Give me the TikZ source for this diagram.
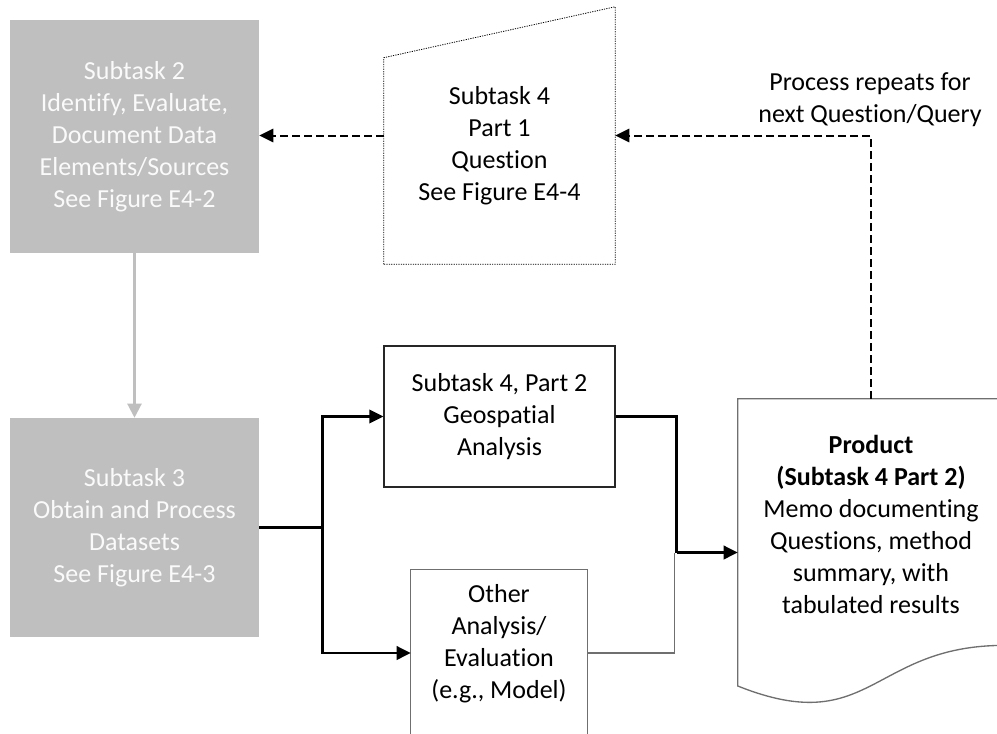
\documentclass[tikz,border=0pt]{standalone}
\usepackage{fontspec}
\setmainfont{Carlito}[Ligatures={NoCommon}]
\usetikzlibrary{arrows.meta,calc}
\definecolor{boxgray}{HTML}{BFBFBF}
\definecolor{lightfont}{HTML}{FAFAFA}
\definecolor{edgegray}{HTML}{6F6F6F}

\begin{document}
\begin{tikzpicture}[x=0.75pt,y=-0.75pt,
  every node/.style={font=\fontsize{19.5pt}{24pt}\selectfont, align=center, inner sep=0pt},
  graybox/.style={fill=boxgray, text=lightfont},
  frame/.style={draw=black!85, line width=0.9pt},
  grayframe/.style={draw=edgegray, line width=1pt},
  dotframe/.style={draw=black, line width=0.6pt, dash pattern=on 0.9pt off 0.9pt},
  flow/.style={line width=1.9pt},
  thinflow/.style={draw=edgegray, line width=1pt},
  tip/.style={-{Triangle[length=10.5pt,width=10pt]}},
  dashflow/.style={line width=1.5pt, dash pattern=on 6pt off 3pt},
  greyflow/.style={draw=boxgray, line width=1.6pt, -{Triangle[length=10.5pt,width=10.5pt]}},
]
\useasboundingbox (0,0) rectangle (997,733);
\clip (0,0) rectangle (997,733);

% shaded sub-task boxes
\node[graybox, minimum width=186.75pt, minimum height=174.75pt] (s2) at (134.5,136.5)
  {Subtask 2\\Identify, Evaluate,\\Document Data\\Elements/Sources\\See Figure E4-2};
\node[graybox, minimum width=186.75pt, minimum height=164.25pt] (s3) at (134.5,527.5)
  {Subtask 3\\Obtain and Process\\Datasets\\See Figure E4-3};

% manual input: question
\node[minimum width=173.25pt, minimum height=192.75pt] (q) at (499.5,135.5) {};
\draw[dotframe] (q.south west) -- ($(q.north west)!0.198!(q.south west)$)
  -- (q.north east) -- (q.south east) -- cycle;
\node (qtext) at ($(q.center)+(0,10)$) {Subtask 4\\Part 1\\Question\\See Figure E4-4};

% analysis boxes
\node[frame, minimum width=173.25pt, minimum height=105.75pt] (g) at (499.5,416.5)
  {Subtask 4, Part 2\\Geospatial\\Analysis};
\node[minimum width=132pt, minimum height=124.5pt] (o) at (499,653) {};
\draw[grayframe] (o.south west) -- (o.north west) -- (o.north east) -- (o.south east);
\node (otext) at ($(o.center)+(0,-9)$) {Other\\Analysis/\\Evaluation\\(e.g., Model)};

% product document
\node[minimum width=199.5pt, minimum height=230.25pt] (p) at (871,552.5) {};
\draw[grayframe] (p.north west) -- (p.north east) -- ($(p.north east)!0.802!(p.south east)$)
  .. controls ($(p.north)!0.802!(p.south)$) and ($(p.north)!1.1075!(p.south)$)
  .. ($(p.north west)!0.934!(p.south west)$) -- cycle;
\node (ptext) at ($(p.center)+(0,-28.5)$)
  {\textbf{Product}\\\textbf{(Subtask 4 Part 2)}\\Memo documenting\\Questions, method\\summary, with\\tabulated results};

\node (note) at (870,100) {Process repeats for\\next Question/Query};

% connectors
\draw[greyflow] (s2.south) -- (s3.north);
\coordinate (split) at ($(s3.east)+(63,0)$);
\coordinate (merge) at ($(p.west)+(-61,0)$);
\draw[flow] (s3.east) -- (split);
\draw[flow,tip] (split) |- (g.west);
\draw[flow,tip] (split) |- (o.west);
\draw[flow] (g.east) -| (merge);
\draw[thinflow] (o.east) -| ($(merge)+(-2,0)$);
\draw[flow,tip] (merge) -- (p.west);
\draw[dashflow,tip] (p.north) |- (q.east);
\draw[dashflow,tip] (q.west) -- (q.west -| s2.east);
\end{tikzpicture}
\end{document}
